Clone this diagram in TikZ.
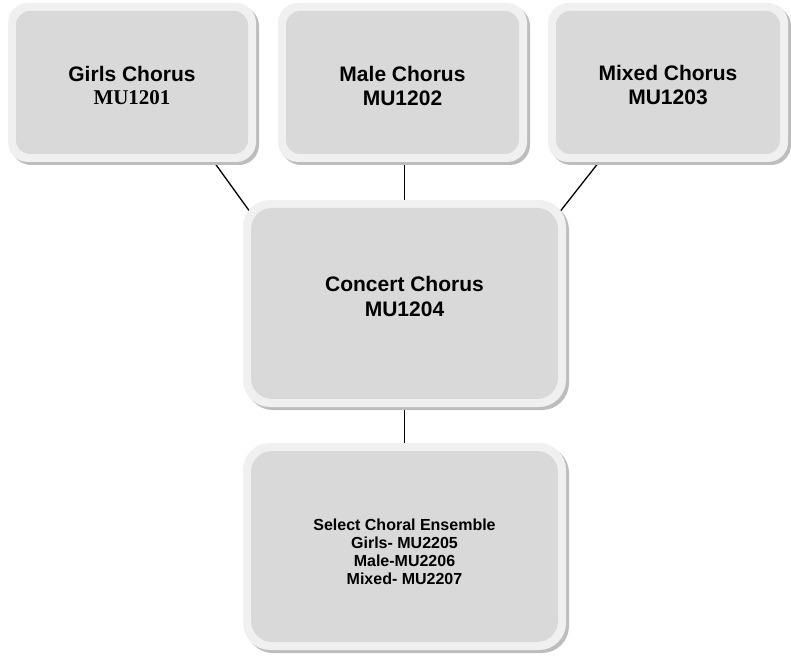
\documentclass[tikz,border=0pt]{standalone}
\usepackage{fontspec}
\setmainfont{Liberation Sans}
\newfontfamily\serifbold{Liberation Serif}
\usetikzlibrary{shadows,backgrounds}
\definecolor{rimgray}{HTML}{F0F0F0}
\definecolor{boxgray}{HTML}{D9D9D9}
\definecolor{shadegray}{HTML}{BDBDBD}

\tikzset{
  card/.style={
    shape=rectangle, fill=rimgray, inner sep=0pt, outer sep=0pt,
    rounded corners=#1,
    drop shadow={shadow xshift=3pt, shadow yshift=-3pt, fill=shadegray, opacity=1},
    path picture={
      \fill[boxgray, rounded corners=#1-6pt]
        ([shift={(8pt,8pt)}]path picture bounding box.south west) rectangle
        ([shift={(-8pt,-8pt)}]path picture bounding box.north east);
    }
  },
  card/.default=20pt,
  bigtext/.style={align=center, font=\bfseries\fontsize{21}{24}\selectfont},
  smalltext/.style={align=center, font=\bfseries\fontsize{16}{18}\selectfont},
  link/.style={draw=black, line width=1.3pt}
}

\begin{document}
\begin{tikzpicture}[x=1pt, y=1pt]
  \useasboundingbox (0,0) rectangle (791,656);

  % course boxes
  \node[card, minimum width=248pt, minimum height=159pt] (girls) at (132,573.5) {};
  \node[card, minimum width=249pt, minimum height=159pt] (male) at (402.5,573.5) {};
  \node[card, minimum width=240pt, minimum height=159pt] (mixed) at (668,573.5) {};
  \node[card=27pt, minimum width=323pt, minimum height=207pt] (concert) at (404.5,352.5) {};
  \node[card=27pt, minimum width=323pt, minimum height=207pt] (select) at (404.5,109.5) {};

  % labels
  \node[bigtext] (girlsT) at ([yshift=-3pt]girls.center) {Girls Chorus\\{\serifbold MU1201}};
  \node[bigtext] (maleT) at ([yshift=-3.5pt]male.center) {Male Chorus\\MU1202};
  \node[bigtext] (mixedT) at ([yshift=-3pt]mixed.center) {Mixed Chorus\\MU1203};
  \node[bigtext, font=\bfseries\fontsize{21}{25}\selectfont] (concertT) at ([yshift=7.5pt]concert.center) {Concert Chorus\\MU1204};
  \node[smalltext] (selectT) at ([yshift=-5.5pt]select.center) {Select Choral Ensemble\\Girls- MU2205\\Male-MU2206\\Mixed- MU2207};

  % connectors behind the boxes
  \begin{scope}[on background layer]
    \draw[link] ([xshift=82pt]girls.south) -- ([shift={(10pt,-16pt)}]concert.north west);
    \draw[link] ([xshift=-69pt]mixed.south) -- ([shift={(-11pt,-18pt)}]concert.north east);
    \draw[link] (concert.north) -- (concert.north |- male.south);
    \draw[link] (concert.south) -- (select.north);
  \end{scope}
\end{tikzpicture}
\end{document}
